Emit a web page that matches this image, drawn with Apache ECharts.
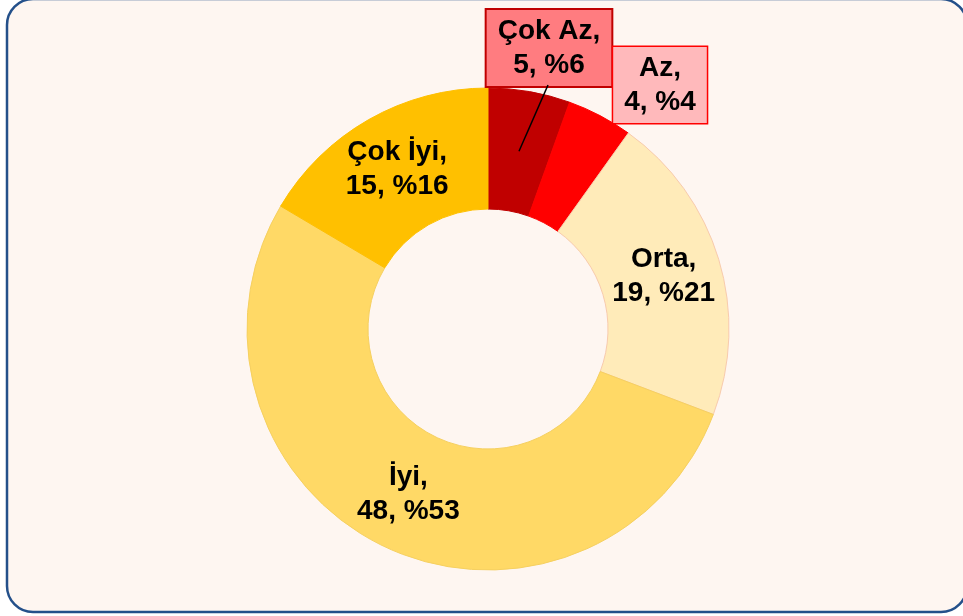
<!DOCTYPE html>
<html>
<head>
<meta charset="utf-8">
<script src="https://cdn.jsdelivr.net/npm/echarts@6/dist/echarts.min.js"></script>
<style>
  html, body { margin: 0; padding: 0; background: #fff; }
  #chart { width: 963px; height: 616px; }
</style>
</head>
<body>
<div id="chart"></div>
<script>
// donut data, clockwise from 12 o'clock
const categories = ['Çok Az', 'Az', 'Orta', 'İyi', 'Çok İyi']
const values = [5, 4, 19, 48, 15]
const percents = [6, 4, 21, 53, 16]
const colors = ['#C00000', '#FF0000', '#FFEBB9', '#FFD966', '#FFC000']
const borderColors = ['#C00000', '#FF0000', '#F8CBAD', '#F6D060', '#FFC000']

const center = [488, 329]
const radius = [120, 241]
const total = values.reduce((a, b) => a + b, 0)

// outside label boxes for the two small slices
const boxStyles = {
  0: { backgroundColor: '#FF7C80', borderColor: '#C00000', borderWidth: 2, pos: [549, 48] },
  1: { backgroundColor: '#FFB9BB', borderColor: '#FF0000', borderWidth: 1.5, pos: [660, 85] }
}
const boxHeight = 76

const labelFont = {
  fontFamily: "'Liberation Sans', Arial, sans-serif",
  fontWeight: 'bold',
  fontSize: 28,
  lineHeight: 34,
  color: '#000'
}

const seriesData = categories.map((name, i) => {
  const item = {
    name: name,
    value: values[i],
    itemStyle: { color: colors[i], borderColor: borderColors[i], borderWidth: 1 }
  }
  if (boxStyles[i]) {
    const b = boxStyles[i]
    item.label = Object.assign({}, labelFont, {
      position: 'outside',
      backgroundColor: b.backgroundColor,
      borderColor: b.borderColor,
      borderWidth: b.borderWidth,
      padding: [4, 11, 4, 11]
    })
    item.labelLine = { show: false }
  }
  return item
})

function midAngle (idx) {
  let cum = 0
  for (let i = 0; i < idx; i++) cum += values[i]
  cum += values[idx] / 2
  return cum / total * Math.PI * 2
}

// leader line: from the middle of the "Çok Az" ring slice up to its label box
const a0 = midAngle(0)
const rMid = (radius[0] + radius[1]) / 2
const leaderStart = [center[0] + rMid * Math.sin(a0), center[1] - rMid * Math.cos(a0)]
const leaderEnd = [boxStyles[0].pos[0] - 1, boxStyles[0].pos[1] + boxHeight / 2 - 1]

const chart = echarts.init(document.getElementById('chart'))
chart.setOption({
  animation: false,
  backgroundColor: '#fff',
  graphic: [
    {
      type: 'rect',
      z: -10,
      silent: true,
      shape: { x: 7, y: -1, width: 960, height: 613, r: 26 },
      style: { fill: '#FEF6F1', stroke: '#24508A', lineWidth: 2.5 }
    },
    {
      type: 'line',
      z: 100,
      silent: true,
      shape: { x1: leaderStart[0], y1: leaderStart[1], x2: leaderEnd[0], y2: leaderEnd[1] },
      style: { stroke: '#000', lineWidth: 1.5 }
    }
  ],
  series: [
    {
      type: 'pie',
      center: center,
      radius: radius,
      startAngle: 90,
      clockwise: true,
      avoidLabelOverlap: false,
      emphasis: { disabled: true },
      label: Object.assign({}, labelFont, {
        position: 'inside',
        formatter: p => p.name + ',\n' + p.value + ', %' + percents[p.dataIndex]
      }),
      labelLine: { show: false },
      labelLayout: function (params) {
        const b = boxStyles[params.dataIndex]
        if (!b) return {}
        return { x: b.pos[0], y: b.pos[1], align: 'center', verticalAlign: 'middle' }
      },
      data: seriesData
    }
  ]
})
</script>
</body>
</html>
